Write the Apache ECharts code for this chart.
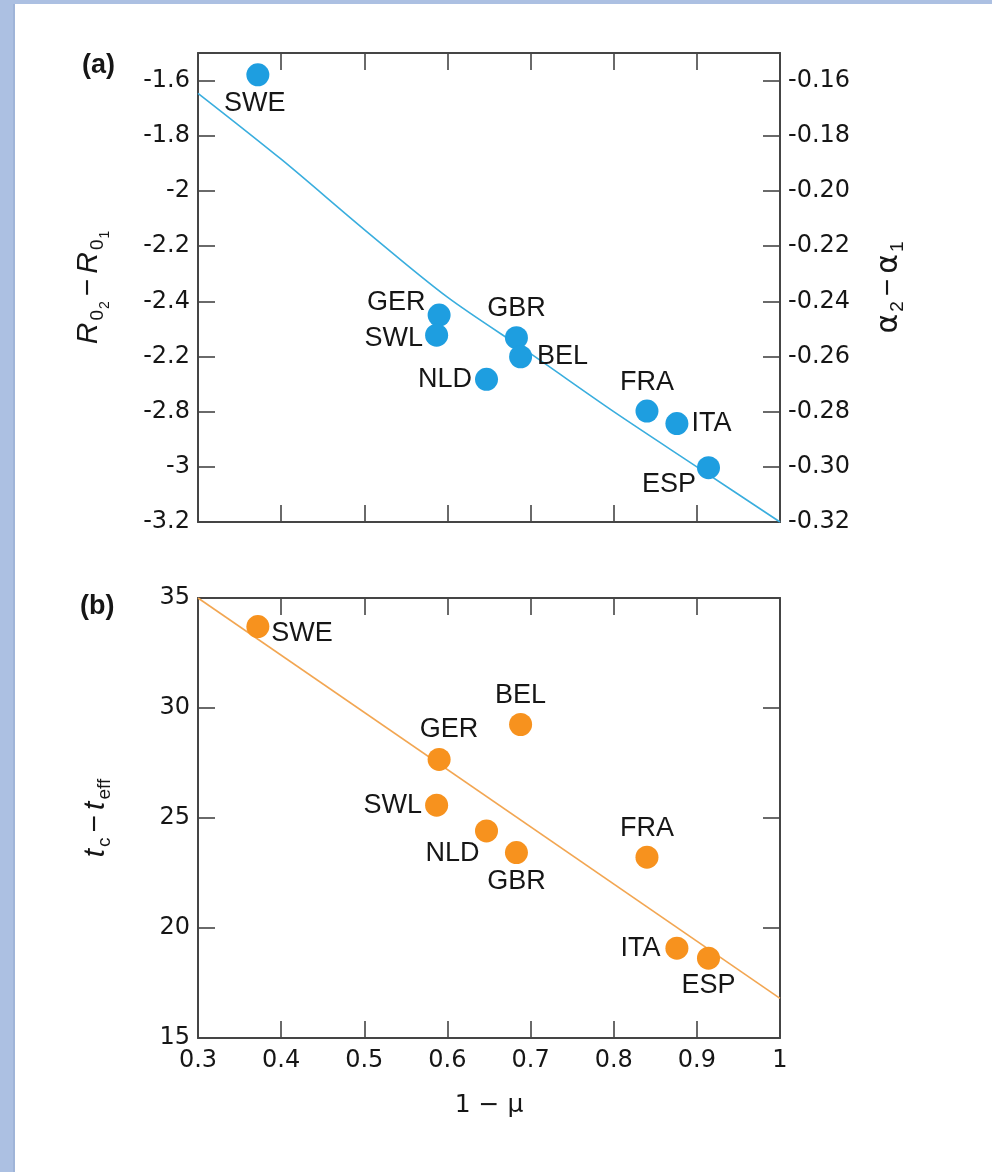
<!DOCTYPE html>
<html>
<head>
<meta charset="utf-8">
<script src="https://cdn.jsdelivr.net/npm/echarts@6/dist/echarts.min.js"></script>
<style>
  html, body { margin: 0; padding: 0; background: #ffffff; }
  #chart { width: 992px; height: 1172px; }
</style>
</head>
<body>
<div id="chart"></div>
<script>
// ---------------- data ----------------
const countries = ['SWE', 'GER', 'SWL', 'GBR', 'BEL', 'NLD', 'FRA', 'ITA', 'ESP'];
const oneMinusMu = [0.372, 0.590, 0.587, 0.683, 0.688, 0.647, 0.840, 0.876, 0.914];
// panel (a): R02 - R01
const dR0 = [-1.579, -2.450, -2.523, -2.532, -2.601, -2.683, -2.798, -2.843, -3.003];
// panel (b): tc - teff
const dT = [33.7, 27.66, 25.58, 23.43, 29.25, 24.41, 23.22, 19.08, 18.63];
// fitted curves
const fitAX = [0.3, 0.4, 0.5, 0.6, 0.7, 0.8, 0.9, 1.0];
const fitAY = [-1.646, -1.885, -2.14, -2.385, -2.59, -2.80, -3.0, -3.2];
const fitBX = [0.3, 1.0];
const fitBY = [35, 16.8];
// tick labels
const xTicks = [0.3, 0.4, 0.5, 0.6, 0.7, 0.8, 0.9, 1.0];
const xTickLabels = ['0.3', '0.4', '0.5', '0.6', '0.7', '0.8', '0.9', '1'];
const yTicksA = [-3.2, -3.0, -2.8, -2.6, -2.4, -2.2, -2.0, -1.8, -1.6];
const yTickLabelsA = ['-3.2', '-3', '-2.8', '-2.2', '-2.4', '-2.2', '-2', '-1.8', '-1.6'];
const alphaTicks = [-0.32, -0.30, -0.28, -0.26, -0.24, -0.22, -0.20, -0.18, -0.16];
const alphaTickLabels = ['-0.32', '-0.30', '-0.28', '-0.26', '-0.24', '-0.22', '-0.20', '-0.18', '-0.16'];
const yTicksB = [15, 20, 25, 30, 35];
const yTickLabelsB = ['15', '20', '25', '30', '35'];

// ---------------- styling ----------------
const FONT = '"Liberation Sans", Arial, Helvetica, sans-serif';
const TICKFONT = '"DejaVu Sans", "Liberation Sans", Arial, sans-serif';
const TXT = '#161616';
const AXC = '#454545';
const BLUE = '#1e9ee0';
const BLUE_LINE = '#3aaede';
const ORANGE = '#f7921e';
const ORANGE_LINE = '#f2a652';

const labelPlaceA = {
  SWE: { position: 'bottom', distance: 4, offset: [-3, 0] },
  GER: { position: 'left', distance: 2, offset: [0, -13] },
  SWL: { position: 'left', distance: 2, offset: [0, 3] },
  GBR: { position: 'top', distance: 4 },
  BEL: { position: 'right', distance: 5 },
  NLD: { position: 'left', distance: 3 },
  FRA: { position: 'top', distance: 4 },
  ITA: { position: 'right', distance: 3 },
  ESP: { position: 'left', distance: 1, offset: [0, 17] }
};
const labelPlaceB = {
  SWE: { position: 'right', distance: 2, offset: [0, 7] },
  GER: { position: 'top', distance: 5, offset: [10, 0] },
  SWL: { position: 'left', distance: 3 },
  GBR: { position: 'bottom', distance: 4 },
  BEL: { position: 'top', distance: 4 },
  NLD: { position: 'bottom', distance: -2, offset: [-34, 0] },
  FRA: { position: 'top', distance: 4 },
  ITA: { position: 'left', distance: 5 },
  ESP: { position: 'bottom', distance: 2 }
};

function tickFormatter(ticks, labels) {
  return function (v) {
    for (let i = 0; i < ticks.length; i++) {
      if (Math.abs(v - ticks[i]) < 1e-6) return labels[i];
    }
    return '';
  };
}

const axisLine = { show: true, onZero: false, lineStyle: { color: AXC, width: 2 } };
const axisTick = { show: true, inside: true, length: 17, lineStyle: { color: AXC, width: 1.6 } };
const tickFont = { fontFamily: TICKFONT, fontSize: 24, color: TXT };
const pointFont = { fontFamily: FONT, fontSize: 27, color: TXT };

function xAxisDef(grid, pos, showLabels, extra) {
  return Object.assign({
    type: 'value', gridIndex: grid, position: pos,
    min: 0.3, max: 1.0, interval: 0.1,
    axisLine: axisLine, axisTick: axisTick, splitLine: { show: false },
    axisLabel: Object.assign({ show: showLabels, margin: 11, formatter: tickFormatter(xTicks, xTickLabels) }, tickFont)
  }, extra || {});
}

const subRich = {
  r: { fontFamily: FONT, fontStyle: 'italic', fontSize: 30, color: TXT, verticalAlign: 'top' },
  n: { fontFamily: FONT, fontSize: 30, color: TXT, verticalAlign: 'top', padding: [0, 5, 0, 5] },
  g: { fontFamily: '"DejaVu Sans", ' + FONT, fontSize: 30, color: TXT, verticalAlign: 'top' },
  s: { fontFamily: FONT, fontSize: 19, color: TXT, verticalAlign: 'top', padding: [14, 0, 0, 2] },
  ss: { fontFamily: FONT, fontSize: 14, color: TXT, verticalAlign: 'top', padding: [24, 0, 0, 1] }
};

function scatterData(ys, place) {
  return countries.map((c, i) => ({
    name: c,
    value: [oneMinusMu[i], ys[i]],
    label: place[c]
  }));
}

const chart = echarts.init(document.getElementById('chart'), null, { renderer: 'canvas' });

const option = {
  animation: false,
  backgroundColor: '#ffffff',
  graphic: [
    { type: 'rect', shape: { x: 0, y: 0, width: 15, height: 1172 }, style: { fill: '#acc0e2' }, silent: true },
    { type: 'rect', shape: { x: 13, y: 0, width: 2, height: 1172 }, style: { fill: '#9fb4d8' }, silent: true },
    { type: 'rect', shape: { x: 0, y: 0, width: 992, height: 4 }, style: { fill: '#acc0e2' }, silent: true },
    { type: 'text', left: 82, top: 52, style: { text: '(a)', font: 'bold 27px ' + FONT, fill: TXT } },
    { type: 'text', left: 80, top: 593, style: { text: '(b)', font: 'bold 27px ' + FONT, fill: TXT } }
  ],
  grid: [
    { left: 198, top: 53, width: 582, height: 469, containLabel: false },
    { left: 198, top: 598, width: 582, height: 440, containLabel: false }
  ],
  xAxis: [
    xAxisDef(0, 'bottom', false),
    xAxisDef(0, 'top', false),
    xAxisDef(1, 'bottom', true, {
      name: '1 \u2212 \u03bc', nameLocation: 'middle', nameGap: 55,
      nameTextStyle: { fontFamily: '"DejaVu Sans", ' + FONT, fontSize: 25, color: TXT }
    }),
    xAxisDef(1, 'top', false)
  ],
  yAxis: [
    {
      type: 'value', gridIndex: 0, position: 'left',
      min: -3.2, max: -1.5, interval: 0.2,
      axisLine: axisLine, axisTick: axisTick, splitLine: { show: false },
      axisLabel: Object.assign({ margin: 8, formatter: tickFormatter(yTicksA, yTickLabelsA) }, tickFont),
      name: '{r|R}{s|0}{ss|2}{n|\u2212}{r|R}{s|0}{ss|1}',
      nameLocation: 'middle', nameRotate: 90, nameGap: 86,
      nameTextStyle: { rich: subRich }
    },
    {
      type: 'value', gridIndex: 0, position: 'right',
      min: -0.32, max: -0.15, interval: 0.02,
      axisLine: axisLine, axisTick: axisTick, splitLine: { show: false },
      axisLabel: Object.assign({ margin: 8, formatter: tickFormatter(alphaTicks, alphaTickLabels) }, tickFont),
      name: '{g|\u03b1}{s|2}{n|\u2212}{g|\u03b1}{s|1}',
      nameLocation: 'middle', nameRotate: 90, nameGap: 94,
      nameTextStyle: { rich: subRich }
    },
    {
      type: 'value', gridIndex: 1, position: 'left',
      min: 15, max: 35, interval: 5,
      axisLine: axisLine, axisTick: axisTick, splitLine: { show: false },
      axisLabel: Object.assign({ margin: 8, formatter: tickFormatter(yTicksB, yTickLabelsB) }, tickFont),
      name: '{r|t}{s|c}{n|\u2212}{r|t}{s|eff}',
      nameLocation: 'middle', nameRotate: 90, nameGap: 84,
      nameTextStyle: { rich: subRich }
    },
    {
      type: 'value', gridIndex: 1, position: 'right',
      min: 15, max: 35, interval: 5,
      axisLine: axisLine, axisTick: axisTick, splitLine: { show: false },
      axisLabel: { show: false }
    }
  ],
  series: [
    {
      type: 'line', xAxisIndex: 0, yAxisIndex: 0,
      data: fitAX.map((x, i) => [x, fitAY[i]]),
      smooth: 0.3, symbol: 'none', z: 2,
      lineStyle: { color: BLUE_LINE, width: 1.6 }
    },
    {
      type: 'scatter', xAxisIndex: 0, yAxisIndex: 0,
      symbolSize: 23, z: 3,
      itemStyle: { color: BLUE, opacity: 1 },
      label: Object.assign({ show: true, formatter: '{b}' }, pointFont),
      data: scatterData(dR0, labelPlaceA)
    },
    {
      type: 'line', xAxisIndex: 2, yAxisIndex: 2,
      data: fitBX.map((x, i) => [x, fitBY[i]]),
      symbol: 'none', z: 2,
      lineStyle: { color: ORANGE_LINE, width: 1.6 }
    },
    {
      type: 'scatter', xAxisIndex: 2, yAxisIndex: 2,
      symbolSize: 23, z: 3,
      itemStyle: { color: ORANGE, opacity: 1 },
      label: Object.assign({ show: true, formatter: '{b}' }, pointFont),
      data: scatterData(dT, labelPlaceB)
    }
  ]
};

chart.setOption(option);
</script>
</body>
</html>
